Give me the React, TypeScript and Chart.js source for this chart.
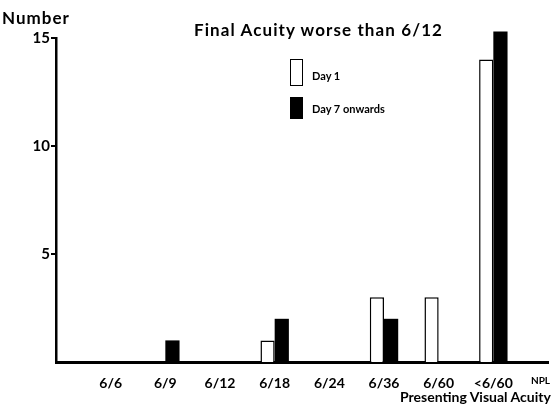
import React, { useEffect, useRef } from 'react';
import { Chart, registerables } from 'chart.js';

Chart.register(...registerables);

const categories = ['', '6/6', '6/9', '6/12', '6/18', '6/24', '6/36', '6/60', '<6/60', 'NPL'];
const day1 = [0, 0, 0, 0, 1, 0, 3, 3, 14, 0];
const day7 = [0, 0, 1, 0, 2, 0, 2, 0, 15.3, 0];
const yTicks = [5, 10, 15];
const seriesNames = ['Day 1', 'Day 7 onwards'];
const titleText = 'Final Acuity worse than 6/12';
const yTitle = 'Number';
const xTitle = 'Presenting Visual Acuity';

const FONT = 'Lato, "DejaVu Sans", sans-serif';

export default function App() {
  const ref = useRef<HTMLCanvasElement | null>(null);

  useEffect(() => {
    if (!ref.current) return;
    const chart = new Chart(ref.current, {
      type: 'bar',
      data: {
        labels: categories,
        datasets: [
          {
            label: seriesNames[0],
            data: day1,
            backgroundColor: '#ffffff',
            borderColor: '#000000',
            borderWidth: 1.5,
            categoryPercentage: 0.52,
            barPercentage: 1.0,
            clip: false as any,
          },
          {
            label: seriesNames[1],
            data: day7,
            backgroundColor: '#000000',
            borderColor: '#000000',
            borderWidth: 0,
            categoryPercentage: 0.52,
            barPercentage: 1.0,
            clip: false as any,
          },
        ],
      },
      options: {
        animation: false,
        responsive: true,
        maintainAspectRatio: false,
        layout: { padding: { top: 38, left: 0, right: 7, bottom: 0 } },
        plugins: {
          legend: { display: false },
          title: { display: false },
          tooltip: { enabled: false },
        },
        scales: {
          x: {
            offset: false,
            grid: { display: false },
            border: { display: true, color: '#000', width: 3 },
            ticks: {
              color: '#000',
              autoSkip: false,
              maxRotation: 0,
              padding: 5,
              callback: (_v: any, i: number) =>
                categories[i] === 'NPL' ? categories[i] + '\u2003\u2003' : categories[i],
              font: (ctx: any) =>
                ctx.index === categories.length - 1
                  ? { family: FONT, size: 10, weight: 'bold' }
                  : { family: FONT, size: 14, weight: 'bold' },
            },
            afterFit: (s: any) => {
              s.height = 44;
              s.paddingRight = 0;
              s.paddingLeft = 0;
            },
          },
          y: {
            min: 0,
            max: 15,
            afterBuildTicks: (s: any) => {
              s.ticks = yTicks.map((v) => ({ value: v }));
            },
            grid: {
              display: true,
              drawOnChartArea: false,
              drawTicks: true,
              tickLength: 5,
              color: '#000',
              lineWidth: 2,
            },
            border: { display: true, color: '#000', width: 2.5 },
            ticks: {
              color: '#000',
              padding: 1,
              font: { family: FONT, size: 15, weight: 'bold' },
            },
            afterFit: (s: any) => {
              s.width = 56;
            },
          },
        },
      },
    });
    return () => chart.destroy();
  }, []);

  const txt: React.CSSProperties = {
    position: 'absolute',
    fontFamily: FONT,
    fontWeight: 'bold',
    color: '#000',
    whiteSpace: 'nowrap',
    lineHeight: 1,
  };

  return (
    <div style={{ position: 'absolute', left: 0, top: 0, width: 555, height: 406, background: '#fff', overflow: 'hidden' }}>
      <canvas ref={ref} style={{ display: 'block', width: '100%', height: '100%' }} />
      <div style={{ ...txt, left: 2, top: 9, fontSize: 17, letterSpacing: 1 }}>{yTitle}</div>
      <div style={{ ...txt, left: 194, top: 21, fontSize: 17, letterSpacing: 1.1 }}>{titleText}</div>
      <div style={{ position: 'absolute', left: 290, top: 59, width: 11, height: 25, border: '1.5px solid #000', background: '#fff' }} />
      <div style={{ ...txt, left: 312, top: 70, fontSize: 11 }}>{seriesNames[0]}</div>
      <div style={{ position: 'absolute', left: 290, top: 97, width: 13, height: 22, background: '#000' }} />
      <div style={{ ...txt, left: 312, top: 103, fontSize: 11 }}>{seriesNames[1]}</div>
      <div style={{ ...txt, left: 400, top: 390, fontSize: 14, letterSpacing: 0 }}>{xTitle}</div>
    </div>
  );
}
